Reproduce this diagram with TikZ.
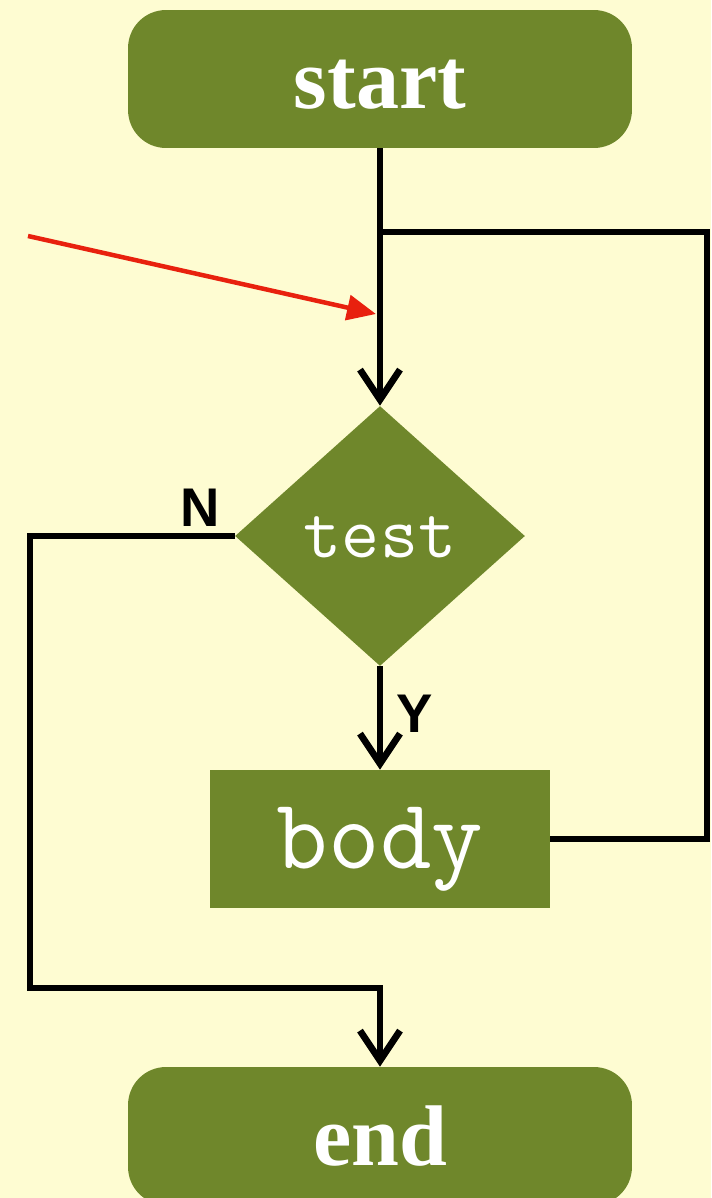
\documentclass[tikz,border=0pt]{standalone}
\usepackage{fontspec}
\usepackage{tikz}
\usepackage{xcolor}
\usetikzlibrary{shapes.geometric,arrows.meta}

\setmainfont{Liberation Serif}
\newfontfamily\labelfont{Liberation Sans}

\definecolor{paper}{HTML}{FEFCD2}
\definecolor{olive}{HTML}{6F872B}
\definecolor{pointer}{HTML}{E8210E}

\tikzset{
  terminal/.style={rectangle, rounded corners=0.76cm, fill=olive, text=white,
    minimum width=10.08cm, minimum height=2.76cm, inner sep=0pt,
    text height=1.16cm, text depth=0pt,
    font=\fontsize{49}{49}\selectfont\bfseries},
  decision/.style={diamond, fill=olive, text=white, inner sep=0pt,
    minimum width=5.8cm, minimum height=5.2cm,
    text height=0.84cm, text depth=0pt,
    font=\fontsize{42}{42}\selectfont\ttfamily},
  process/.style={rectangle, fill=olive, text=white, inner sep=0pt,
    minimum width=6.8cm, minimum height=2.76cm,
    text height=1.16cm, text depth=0pt,
    font=\fontsize{57}{57}\selectfont\ttfamily},
  line/.style={line width=0.135cm},
  flow/.style={line, -{Straight Barb[length=0.6cm, width=0.8cm]}},
  branch/.style={font=\fontsize{31}{31}\selectfont\labelfont\bfseries}
}

\begin{document}
\begin{tikzpicture}[x=0.02cm, y=-0.02cm]
            % background
	    \fill[color=paper] (0,0) rectangle (711,1198);
	    \useasboundingbox (0,0) rectangle (711,1198);

            % draw boxes
	    \node[terminal] (start) at (380,79) {start};
	    \node[decision] (test) at (380,536) {test};
	    \node[process] (body) at (380,839) {body};
	    \begin{scope}
	    \clip (0,0) rectangle (711,1198);
	    \node[terminal] (end) at (380,1136) {end};
	    \end{scope}

            % corner points of the paths
	    \coordinate (join) at (377,232);
	    \coordinate (back) at (707,232);
	    \coordinate (nturn) at (30,988);
	    \coordinate (from) at (28,236);
	    \coordinate (hit) at (376,314);

            % draw paths
	    \draw[flow] (start.south) -- (test.north);
	    \draw[flow] (test.south) -- (body.north);
	    \draw[line] (body.east) -| (back) -- (join);
	    \draw[flow] (test.west) -| (nturn) -| (end.north);

            % branch labels
	    \node[branch] (no) at (200,508) {N};
	    \node[branch] (yes) at (415,714) {Y};

            % draw pointer
	    \draw[color=pointer, line width=0.09cm, -{Triangle[length=0.58cm, width=0.5cm]}] (from) -- (hit);
        \end{tikzpicture}
\end{document}
